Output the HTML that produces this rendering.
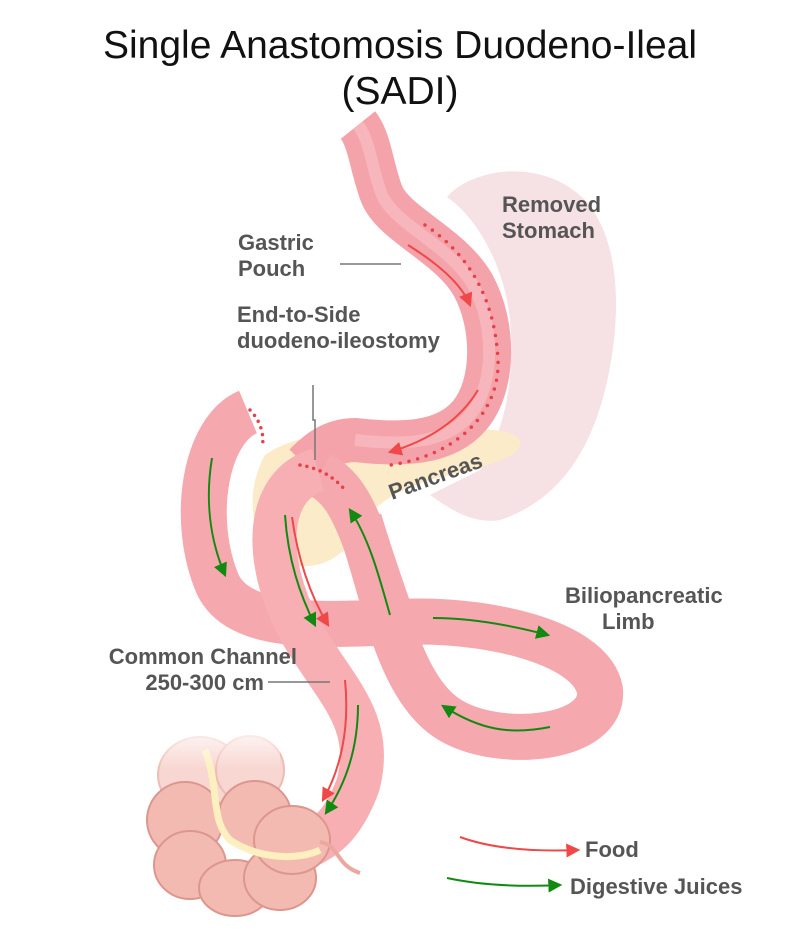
<!DOCTYPE html>
<html><head><meta charset="utf-8"><style>
body{margin:0;background:#fff}
svg{display:block}
text{font-family:"Liberation Sans",Arial,sans-serif}
.l{fill:#555;font-size:22px;font-weight:bold}
</style></head><body>
<svg width="800" height="949" viewBox="0 0 800 949">
<defs>
<marker id="ar" markerWidth="14" markerHeight="14" refX="10" refY="6" orient="auto" markerUnits="userSpaceOnUse" viewBox="0 0 12 12"><path d="M0,0 L12,6 L0,12 z" fill="#f04848"/></marker>
<marker id="ag" markerWidth="14" markerHeight="14" refX="10" refY="6" orient="auto" markerUnits="userSpaceOnUse" viewBox="0 0 12 12"><path d="M0,0 L12,6 L0,12 z" fill="#128a12"/></marker>
<linearGradient id="fade" x1="0" y1="0" x2="0" y2="1"><stop offset="0" stop-color="#fff" stop-opacity="1"/><stop offset="1" stop-color="#fff" stop-opacity="0"/></linearGradient>
</defs>
<text x="400" y="58" font-size="39" text-anchor="middle" fill="#111">Single Anastomosis Duodeno-Ileal</text>
<text x="400" y="104" font-size="39" text-anchor="middle" fill="#111">(SADI)</text>

<!-- removed stomach -->
<path d="M447,197 C470,170 540,155 585,200 C625,245 620,330 605,390 C590,450 560,500 500,520 C470,525 445,505 430,495 L480,470 C505,430 515,380 510,320 C505,270 480,220 447,197 Z" fill="#f6e1e4"/>
<!-- pancreas -->
<path d="M265,455 C300,430 360,430 420,432 C470,430 510,425 520,440 C525,460 470,470 430,480 C400,490 380,500 365,520 C345,560 320,570 290,565 C255,555 240,500 265,455 Z" fill="#fbebc9"/>

<!-- gastric pouch -->
<path d="M358,125 C370,140 372,170 382,195 C395,225 450,245 473,285 C495,325 495,385 470,415 C445,445 400,445 355,440 C330,440 315,455 305,465" fill="none" stroke="#f4a3aa" stroke-width="44" stroke-linecap="butt"/>
<path d="M358,125 C370,140 372,170 382,195 C395,225 450,245 473,285 C495,325 495,385 470,415 C445,445 400,445 355,440" fill="none" stroke="#f9c3c7" stroke-width="12" opacity=".6"/>
<path d="M425,225 C470,255 495,300 498,360 C500,410 460,455 390,465" fill="none" stroke="#e8404a" stroke-width="3.5" stroke-dasharray="0,9" stroke-linecap="round"/>
<path d="M408,245 C440,265 462,285 470,305" fill="none" stroke="#f04848" stroke-width="2" marker-end="url(#ar)"/>
<path d="M478,390 C460,420 430,440 390,452" fill="none" stroke="#f04848" stroke-width="2" marker-end="url(#ar)"/>

<!-- biliopancreatic limb -->
<path d="M248,412 C205,430 190,520 218,585 C240,630 320,625 400,622 C480,618 590,640 600,690 C605,740 500,750 450,720 C400,690 385,600 365,540 C352,505 340,485 320,475" fill="none" stroke="#f5a8ad" stroke-width="46"/>
<!-- common channel -->
<path d="M318,470 C265,485 262,560 300,630 C335,690 375,720 358,785 C345,820 330,835 310,845" fill="none" stroke="#f7afb3" stroke-width="44"/>
<path d="M360,520 C375,570 390,610 400,640" fill="none" stroke="#f5a8ad" stroke-width="44"/>
<path d="M250,410 C260,420 265,435 262,448 M300,465 C320,468 335,478 345,490" fill="none" stroke="#e8404a" stroke-width="3.5" stroke-dasharray="0,7" stroke-linecap="round"/>

<!-- arrows limb -->
<path d="M212,458 C205,500 210,540 225,575" fill="none" stroke="#128a12" stroke-width="2" marker-end="url(#ag)"/>
<path d="M390,615 C380,580 370,540 350,510" fill="none" stroke="#128a12" stroke-width="2" marker-end="url(#ag)"/>
<path d="M433,618 C470,618 510,625 548,635" fill="none" stroke="#128a12" stroke-width="2" marker-end="url(#ag)"/>
<path d="M550,727 C510,735 480,730 443,706" fill="none" stroke="#128a12" stroke-width="2" marker-end="url(#ag)"/>
<!-- arrows channel -->
<path d="M285,515 C288,560 300,595 315,625" fill="none" stroke="#128a12" stroke-width="2" marker-end="url(#ag)"/>
<path d="M292,517 C298,560 310,595 328,625" fill="none" stroke="#f04848" stroke-width="2" marker-end="url(#ar)"/>
<path d="M345,680 C350,730 340,770 323,800" fill="none" stroke="#f04848" stroke-width="2" marker-end="url(#ar)"/>
<path d="M358,705 C358,750 345,785 326,813" fill="none" stroke="#128a12" stroke-width="2" marker-end="url(#ag)"/>

<!-- colon -->
<g stroke="#dc968d" stroke-width="2" fill="#f3bab2">
<ellipse cx="200" cy="775" rx="42" ry="38" fill="#f8d6d1" stroke="#eebcb5"/>
<ellipse cx="250" cy="770" rx="34" ry="34" fill="#f8d6d1" stroke="#eebcb5"/>
<ellipse cx="185" cy="820" rx="38" ry="38"/>
<ellipse cx="255" cy="815" rx="36" ry="34"/>
<ellipse cx="190" cy="865" rx="36" ry="34"/>
<ellipse cx="235" cy="888" rx="36" ry="28"/>
<ellipse cx="280" cy="878" rx="36" ry="32"/>
<ellipse cx="292" cy="840" rx="38" ry="34"/>
</g>
<path d="M205,750 C220,790 210,820 230,840 C260,860 300,860 320,850" fill="none" stroke="#fcefc0" stroke-width="7"/>
<path d="M320,842 C340,845 335,865 360,873" fill="none" stroke="#eba8a0" stroke-width="4"/>
<rect x="130" y="720" width="150" height="50" fill="url(#fade)"/>

<!-- labels -->
<text class="l" x="502" y="212">Removed</text>
<text class="l" x="502" y="238">Stomach</text>
<text class="l" x="238" y="250">Gastric</text>
<text class="l" x="238" y="276">Pouch</text>
<line x1="340" y1="264" x2="401" y2="264" stroke="#777" stroke-width="1.5"/>
<text class="l" x="237" y="322">End-to-Side</text>
<text class="l" x="237" y="348">duodeno-ileostomy</text>
<path d="M313,385 L313,420 L315,420 L315,460" fill="none" stroke="#777" stroke-width="1.5"/>
<text class="l" x="0" y="0" transform="translate(392,500) rotate(-20)">Pancreas</text>
<text class="l" x="565" y="603">Biliopancreatic</text>
<text class="l" x="602" y="629">Limb</text>
<text class="l" x="297" y="664" text-anchor="end">Common Channel</text>
<text class="l" x="264" y="690" text-anchor="end">250-300 cm</text>
<line x1="268" y1="682" x2="330" y2="682" stroke="#777" stroke-width="1.5"/>

<path d="M460,837 C490,848 530,852 578,850" fill="none" stroke="#f04848" stroke-width="2" marker-end="url(#ar)"/>
<text class="l" x="585" y="857">Food</text>
<path d="M447,878 C480,885 520,887 560,885" fill="none" stroke="#128a12" stroke-width="2" marker-end="url(#ag)"/>
<text class="l" x="570" y="894">Digestive Juices</text>
</svg>
</body></html>
